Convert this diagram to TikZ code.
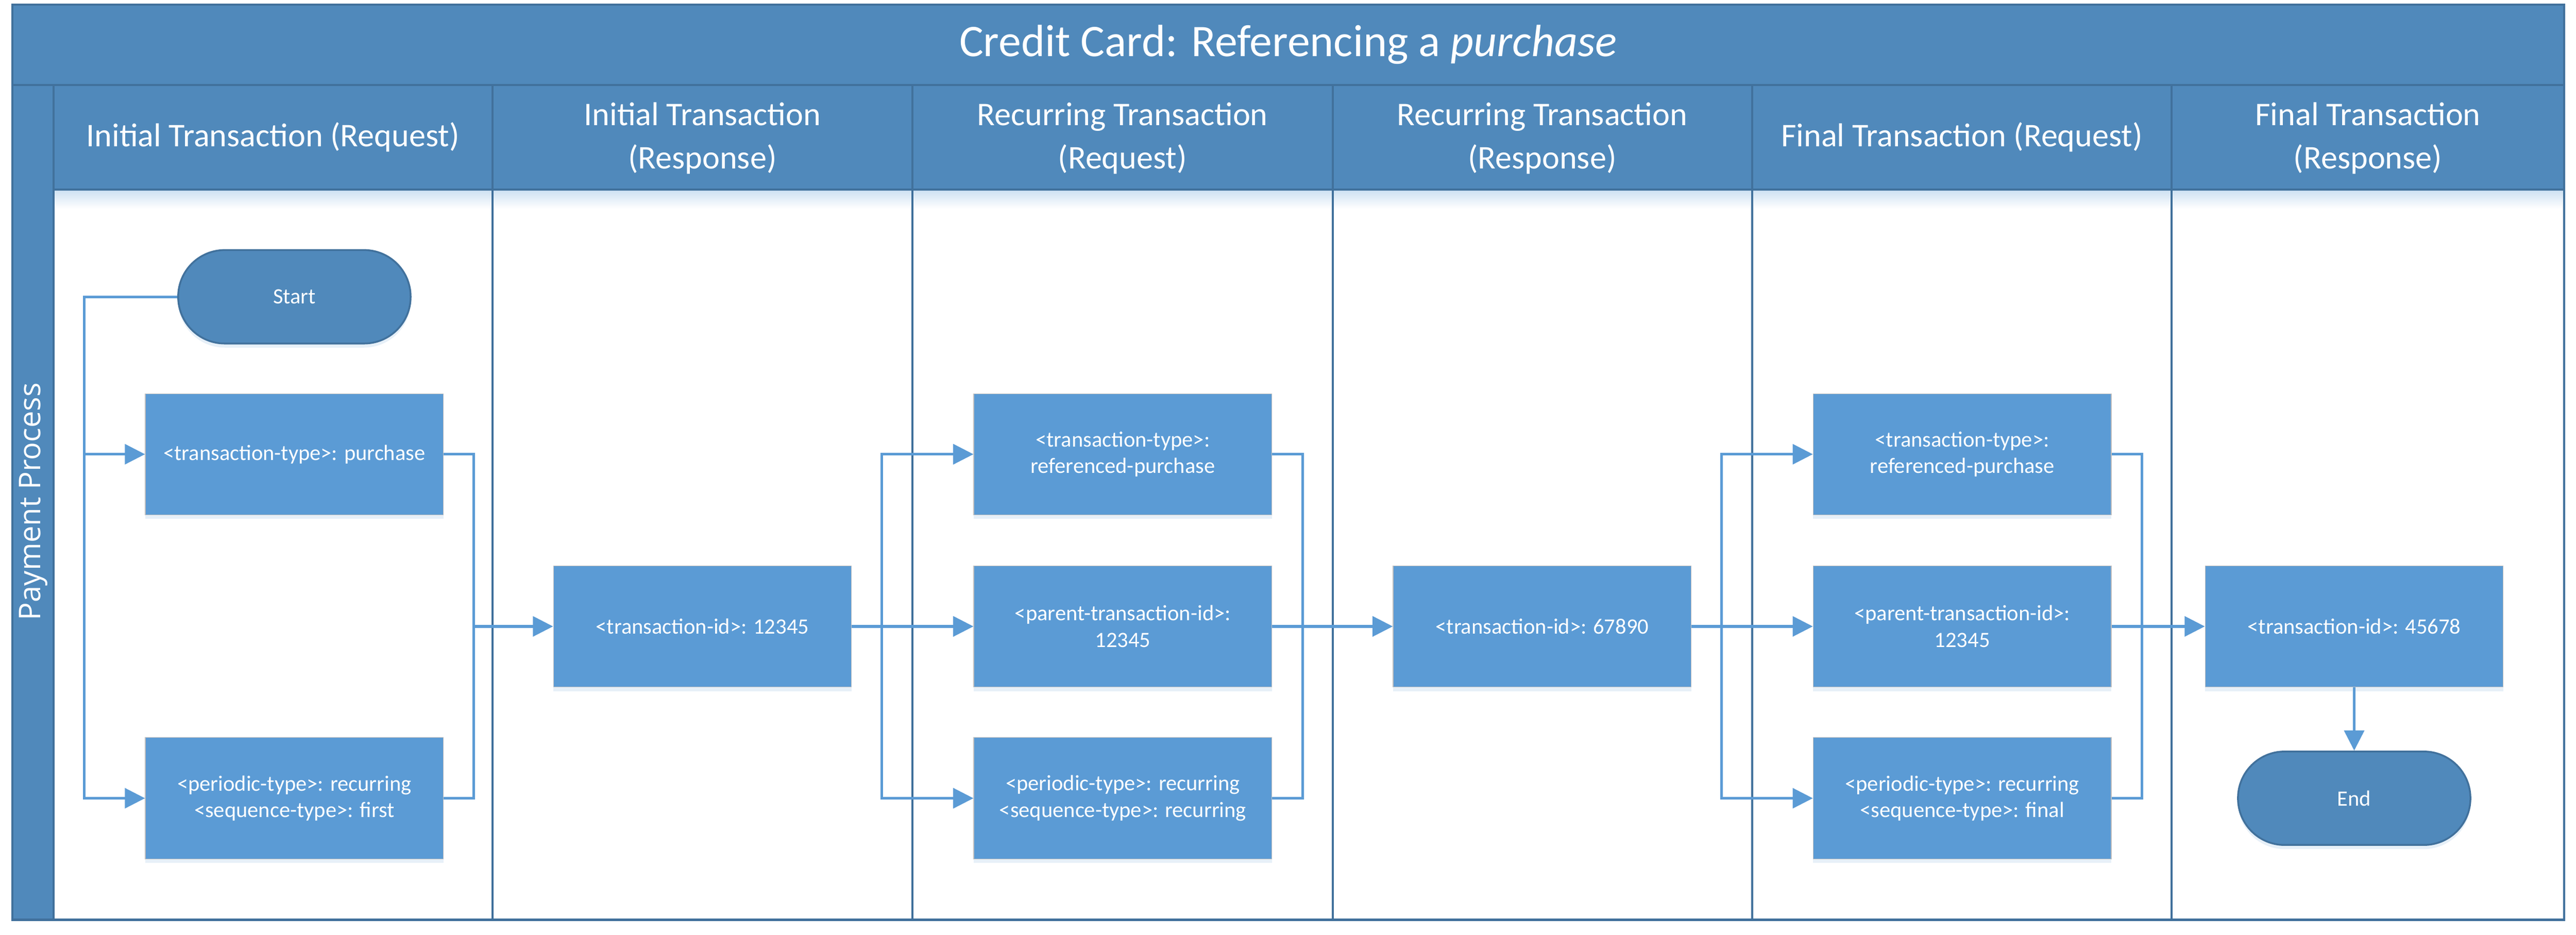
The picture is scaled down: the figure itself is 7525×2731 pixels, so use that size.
\documentclass[tikz,border=0pt]{standalone}
\usepackage{fontspec}
\usepackage{xcolor}
\setmainfont{Carlito}
\newfontfamily\poolfont{Open Sans}
\usetikzlibrary{arrows.meta,shadows}
\definecolor{laneblue}{RGB}{80,137,187}
\definecolor{lineblue}{RGB}{65,113,156}
\definecolor{boxblue}{RGB}{91,155,213}
\tikzset{
  laneline/.style={draw=lineblue, line width=1.8pt},
  lanehead/.style={text=white, align=center, font=\fontsize{27.5}{35.6}\selectfont},
  procbox/.style={draw=black!25, line width=0.5pt, fill=boxblue, text=white, align=center,
    minimum width=87.1mm, minimum height=35.4mm, inner sep=0pt, font=\fontsize{18.2}{22}\selectfont,
    drop shadow={shadow xshift=0pt, shadow yshift=-1.2mm, fill=boxblue!18, opacity=0.8}},
  termbox/.style={draw=lineblue, line width=1.5pt, fill=laneblue, text=white,
    minimum width=67.9mm, minimum height=27.3mm, rounded corners=13.6mm, inner sep=0pt,
    font=\fontsize{18.2}{22}\selectfont,
    drop shadow={shadow xshift=0pt, shadow yshift=-1.2mm, fill=boxblue!18, opacity=0.8}},
  flow/.style={draw=boxblue, line width=2.2pt},
  flowarrow/.style={flow, -{Triangle[length=16.8pt, width=16.6pt]}}
}
\begin{document}
\begin{tikzpicture}[x=0.1mm, y=-0.1mm]
\useasboundingbox [fill=white] (0,0) rectangle (7525,2731);
\fill [laneblue] (36,13) rectangle (7490,554);
\fill [laneblue] (36,554) rectangle (156,2687);
\shade [top color=boxblue!30, bottom color=white] (156,556) rectangle (7490,610);
\draw [laneline] (36,13) rectangle (7490,2687);
\draw [laneline] (36,248) -- (7490,248);
\draw [laneline] (156,554) -- (7490,554);
\draw [laneline] (156,248) -- (156,2687);
\draw [laneline] (1439,248) -- (1439,2687);
\draw [laneline] (2665,248) -- (2665,2687);
\draw [laneline] (3893,248) -- (3893,2687);
\draw [laneline] (5118,248) -- (5118,2687);
\draw [laneline] (6344,248) -- (6344,2687);

\node [text=white, font=\fontsize{37.6}{45}\selectfont] (title) at (3763,130) {Credit Card: Referencing a \textit{purchase}};
\node [rotate=90, text=white, font=\poolfont\fontsize{24.8}{30}\selectfont] (pool) at (98,1465) {Payment Process};
\node [lanehead] (head1) at (797,401) {Initial Transaction (Request)};
\node [lanehead] (head2) at (2052,404) {Initial Transaction\\(Response)};
\node [lanehead] (head3) at (3279,404) {Recurring Transaction\\(Request)};
\node [lanehead] (head4) at (4505,404) {Recurring Transaction\\(Response)};
\node [lanehead] (head5) at (5731,401) {Final Transaction (Request)};
\node [lanehead] (head6) at (6917,404) {Final Transaction\\(Response)};

\node [termbox] (start) at (860,867) {Start};
\node [procbox] (ttype1) at (860,1327) {<transaction-type>: purchase};
\node [procbox] (ptype1) at (860,2332) {<periodic-type>: recurring\\<sequence-type>: first};
\node [procbox] (tid1) at (2052,1830) {<transaction-id>: 12345};
\node [procbox] (ttype2) at (3280,1327) {<transaction-type>:\\referenced-purchase};
\node [procbox] (parent2) at (3280,1830) {<parent-transaction-id>:\\12345};
\node [procbox] (ptype2) at (3280,2332) {<periodic-type>: recurring\\<sequence-type>: recurring};
\node [procbox] (tid2) at (4505,1830) {<transaction-id>: 67890};
\node [procbox] (ttype3) at (5732,1327) {<transaction-type>:\\referenced-purchase};
\node [procbox] (parent3) at (5732,1830) {<parent-transaction-id>:\\12345};
\node [procbox] (ptype3) at (5732,2332) {<periodic-type>: recurring\\<sequence-type>: final};
\node [procbox] (tid3) at (6877,1830) {<transaction-id>: 45678};
\node [termbox] (end) at (6877,2332) {End};

\coordinate (split1) at (246,1327);
\coordinate (join1) at (1384,1830);
\coordinate (split2) at (2576,1830);
\coordinate (join2) at (3805,1830);
\coordinate (split3) at (5029,1830);
\coordinate (join3) at (6257,1830);

\draw [flowarrow] (start.west) -| (split1) |- (ptype1.west);
\draw [flowarrow] (split1) -- (ttype1.west);
\draw [flow] (ttype1.east) -| (join1);
\draw [flow] (ptype1.east) -| (join1);
\draw [flowarrow] (join1) -- (tid1.west);
\draw [flowarrow] (tid1.east) -- (parent2.west);
\draw [flowarrow] (split2) |- (ttype2.west);
\draw [flowarrow] (split2) |- (ptype2.west);
\draw [flow] (ttype2.east) -| (join2);
\draw [flow] (ptype2.east) -| (join2);
\draw [flowarrow] (parent2.east) -- (tid2.west);
\draw [flowarrow] (tid2.east) -- (parent3.west);
\draw [flowarrow] (split3) |- (ttype3.west);
\draw [flowarrow] (split3) |- (ptype3.west);
\draw [flow] (ttype3.east) -| (join3);
\draw [flow] (ptype3.east) -| (join3);
\draw [flowarrow] (parent3.east) -- (tid3.west);
\draw [flowarrow] (tid3.south) -- (end.north);
\end{tikzpicture}
\end{document}
